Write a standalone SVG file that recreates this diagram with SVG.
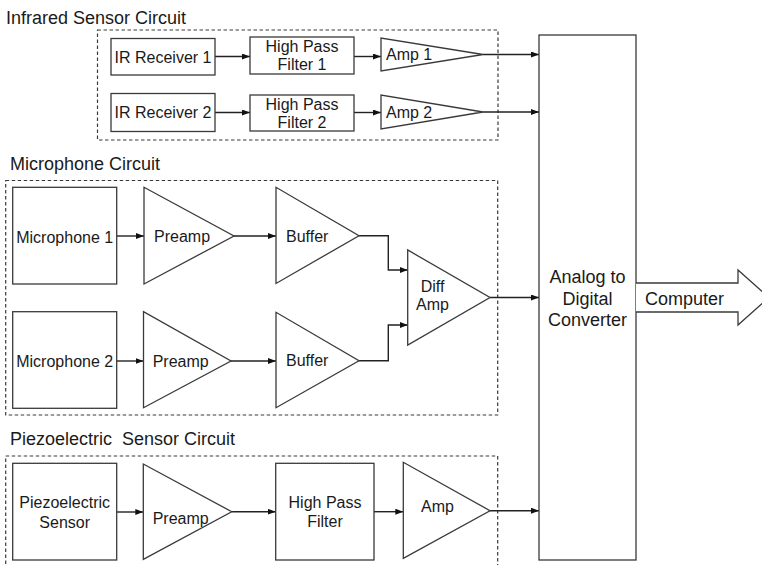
<svg xmlns="http://www.w3.org/2000/svg" width="762" height="565" viewBox="0 0 762 565">
<style>
.blk{fill:#fff;stroke:#3a3a3a;stroke-width:1.3}
.dash{fill:none;stroke:#3a3a3a;stroke-width:1.2;stroke-dasharray:3.5,2.5}
.wire{fill:none;stroke:#222;stroke-width:1.4}
text{font-family:"Liberation Sans",Arial,sans-serif;fill:#1a1a1a}
.t16{font-size:16px}
.t18{font-size:18px}
.mid{text-anchor:middle}
</style>
<defs>
<marker id="ah" markerUnits="userSpaceOnUse" markerWidth="9" markerHeight="7" refX="8" refY="3" orient="auto">
<path d="M0,0 L8,3 L0,6 z" fill="#111"/>
</marker>
</defs>

<g id="groups">
<g id="ir-circuit">
<rect class="dash" x="97.5" y="30" width="400.5" height="110"/>
<text class="t18" x="6" y="23.5">Infrared Sensor Circuit</text>
</g>
<g id="mic-circuit">
<rect class="dash" x="5.7" y="180.5" width="492" height="234.5"/>
<text class="t18" x="10" y="170">Microphone Circuit</text>
</g>
<g id="piezo-circuit">
<rect class="dash" x="5.7" y="456" width="492" height="120"/>
<text class="t18" x="10" y="445" xml:space="preserve">Piezoelectric  Sensor Circuit</text>
</g>
</g>

<g id="connectors">
<line class="wire" x1="215" y1="56.5" x2="250" y2="56.5" marker-end="url(#ah)"/>
<line class="wire" x1="354" y1="56.5" x2="381" y2="56.5" marker-end="url(#ah)"/>
<line class="wire" x1="483" y1="54.5" x2="539" y2="54.5" marker-end="url(#ah)"/>
<line class="wire" x1="215" y1="112.5" x2="250" y2="112.5" marker-end="url(#ah)"/>
<line class="wire" x1="354" y1="112.5" x2="381" y2="112.5" marker-end="url(#ah)"/>
<line class="wire" x1="483" y1="112" x2="539" y2="112" marker-end="url(#ah)"/>

<line class="wire" x1="116.7" y1="236" x2="144" y2="236" marker-end="url(#ah)"/>
<line class="wire" x1="234" y1="236" x2="276" y2="236" marker-end="url(#ah)"/>
<line class="wire" x1="116.7" y1="361" x2="143.5" y2="361" marker-end="url(#ah)"/>
<line class="wire" x1="231" y1="361" x2="276" y2="361" marker-end="url(#ah)"/>
<polyline class="wire" points="359,235.7 388.3,235.7 388.3,270 407.7,270" marker-end="url(#ah)"/>
<polyline class="wire" points="359,360.7 388.3,360.7 388.3,325 407.7,325" marker-end="url(#ah)"/>
<line class="wire" x1="490" y1="297.5" x2="539" y2="297.5" marker-end="url(#ah)"/>

<line class="wire" x1="116.7" y1="512" x2="143.3" y2="512" marker-end="url(#ah)"/>
<line class="wire" x1="231.7" y1="511.7" x2="275.7" y2="511.7" marker-end="url(#ah)"/>
<line class="wire" x1="374" y1="511.7" x2="403.3" y2="511.7" marker-end="url(#ah)"/>
<line class="wire" x1="490" y1="510.7" x2="539" y2="510.7" marker-end="url(#ah)"/>
</g>

<g id="ir-receiver-1">
<rect class="blk" x="111" y="38.5" width="104" height="36.5"/>
<text class="t16 mid" x="163" y="62.5">IR Receiver 1</text>
</g>
<g id="hpf-1">
<rect class="blk" x="250" y="37" width="104" height="37"/>
<text class="t16 mid" x="302" y="51.5">High Pass</text>
<text class="t16 mid" x="302" y="70">Filter 1</text>
</g>
<g id="amp-1">
<polygon class="blk" points="381,38 381,71 483,54.5"/>
<text class="t16" x="386" y="60">Amp 1</text>
</g>
<g id="ir-receiver-2">
<rect class="blk" x="111" y="93.5" width="104" height="38"/>
<text class="t16 mid" x="163" y="118">IR Receiver 2</text>
</g>
<g id="hpf-2">
<rect class="blk" x="250" y="95" width="104" height="36"/>
<text class="t16 mid" x="302" y="110">High Pass</text>
<text class="t16 mid" x="302" y="128">Filter 2</text>
</g>
<g id="amp-2">
<polygon class="blk" points="381,95 381,129 483,112"/>
<text class="t16" x="386" y="117.5">Amp 2</text>
</g>

<g id="microphone-1">
<rect class="blk" x="12.7" y="187.3" width="104" height="96.7"/>
<text class="t16 mid" x="64.7" y="242.5">Microphone 1</text>
</g>
<g id="preamp-1">
<polygon class="blk" points="144,187.3 144,284 234,236"/>
<text class="t16" x="154" y="241.7">Preamp</text>
</g>
<g id="buffer-1">
<polygon class="blk" points="276,187.3 276,283.5 359,235.7"/>
<text class="t16" x="286" y="241.7">Buffer</text>
</g>
<g id="microphone-2">
<rect class="blk" x="12.7" y="311.7" width="104" height="96.6"/>
<text class="t16 mid" x="64.7" y="366.5">Microphone 2</text>
</g>
<g id="preamp-2">
<polygon class="blk" points="143.5,311.7 143.5,407.7 231,361"/>
<text class="t16" x="152.7" y="366.7">Preamp</text>
</g>
<g id="buffer-2">
<polygon class="blk" points="276,312.3 276,407.7 359,360.7"/>
<text class="t16" x="286" y="366">Buffer</text>
</g>
<g id="diff-amp">
<polygon class="blk" points="407.7,250 407.7,345 490,297.5"/>
<text class="t16 mid" x="432.5" y="291.7">Diff</text>
<text class="t16 mid" x="432.5" y="310">Amp</text>
</g>

<g id="piezo-sensor">
<rect class="blk" x="12.7" y="463.3" width="104" height="96.7"/>
<text class="t16 mid" x="64.7" y="508.3">Piezoelectric</text>
<text class="t16 mid" x="64.7" y="527.7">Sensor</text>
</g>
<g id="piezo-preamp">
<polygon class="blk" points="143.3,464 143.3,559.3 231.7,511.7"/>
<text class="t16" x="152.7" y="524">Preamp</text>
</g>
<g id="piezo-hpf">
<rect class="blk" x="275.7" y="463.3" width="98.3" height="96.7"/>
<text class="t16 mid" x="325" y="508.3">High Pass</text>
<text class="t16 mid" x="325" y="527.3">Filter</text>
</g>
<g id="piezo-amp">
<polygon class="blk" points="403.3,462.3 403.3,558.3 490,510.7"/>
<text class="t16" x="421" y="511.7">Amp</text>
</g>

<g id="adc">
<rect class="blk" x="539" y="35" width="97" height="525"/>
<text class="t18 mid" x="587.5" y="283">Analog to</text>
<text class="t18 mid" x="587.5" y="304.5">Digital</text>
<text class="t18 mid" x="587.5" y="326">Converter</text>
</g>
<g id="computer">
<polyline class="blk" points="636,283 738,283 738,270 769,297.5 738,325 738,312 636,312"/>
<text class="t18" x="645" y="304.5">Computer</text>
</g>
</svg>
